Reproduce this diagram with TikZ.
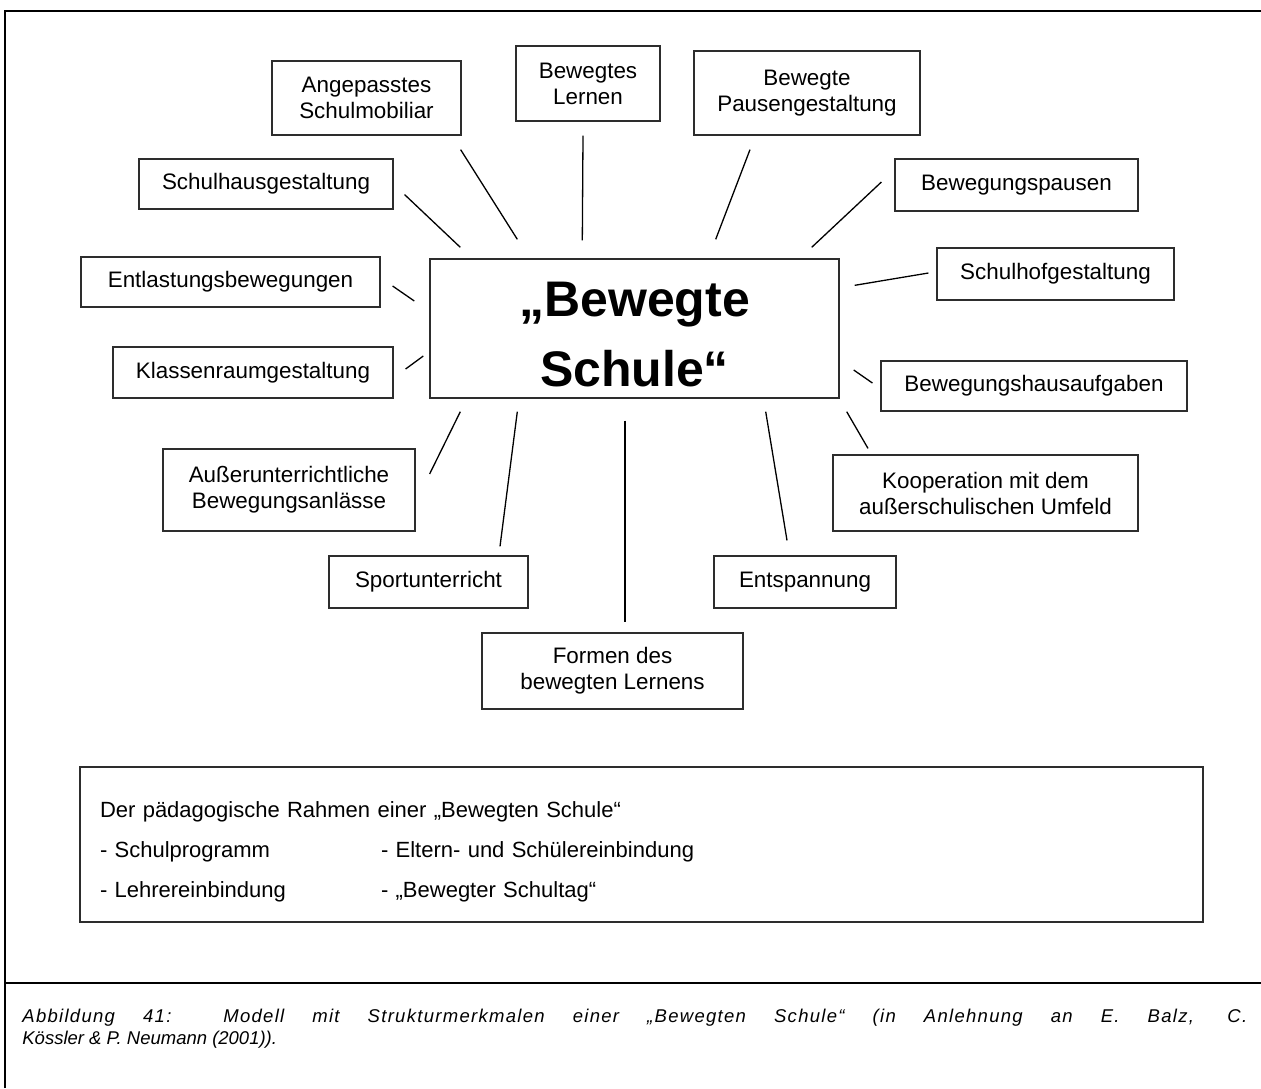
\documentclass[tikz,border=0pt]{standalone}
\usepackage{fontspec}
\setmainfont{Liberation Sans}
\usepackage{tikz}
\definecolor{feldgrau}{RGB}{45,45,45}

\begin{document}
\begin{tikzpicture}[x=0.5pt,y=-0.5pt,
    feld/.style={draw=feldgrau,line width=0.6pt,inner sep=0pt,align=center,
      font=\fontsize{11.2}{13}\selectfont},
    speiche/.style={line width=0.65pt,draw=black},
    rand/.style={line width=1.2pt}]
    \useasboundingbox (0,0) rectangle (1261,1088);
    % Rahmen der Abbildung
    \draw[rand] (5,1088) -- (5,11) -- (1261,11);
    \draw[rand] (5,983) -- (1261,983);
    % Zentrum und Strukturmerkmale
    \node[feld,line width=0.7pt,minimum width=204.5pt,minimum height=69.5pt,text width=204.5pt,
          font=\fontsize{25}{35}\selectfont\bfseries] (core) at (634.5,328.5)
      {\rule{0pt}{23.5pt}„Bewegte\\Schule“};
    \node[feld,minimum width=94.5pt,minimum height=37pt] (mobiliar) at (366.5,98) {Angepasstes\\Schulmobiliar};
    \node[feld,minimum width=72pt,minimum height=37.5pt] (lernen) at (588,83.5) {Bewegtes\\Lernen};
    \node[feld,minimum width=113pt,minimum height=42pt] (pausen) at (807,93) {Bewegte\\Pausengestaltung};
    \node[feld,minimum width=127pt,minimum height=25pt] (haus) at (266,184) {Schulhausgestaltung};
    \node[feld,minimum width=121.5pt,minimum height=26pt] (bewpausen) at (1016.5,185) {Bewegungspausen};
    \node[feld,minimum width=149.5pt,minimum height=25pt] (entlastung) at (230.5,282) {Entlastungsbewegungen};
    \node[feld,minimum width=118.5pt,minimum height=26pt] (hof) at (1055.5,274) {Schulhofgestaltung};
    \node[feld,minimum width=140pt,minimum height=25.5pt] (klasse) at (253,372.5) {Klassenraumgestaltung};
    \node[feld,minimum width=153pt,minimum height=25pt] (hausaufgaben) at (1034,386) {Bewegungshausaufgaben};
    \node[feld,minimum width=126pt,minimum height=41pt] (ausser) at (289,490) {Außerunterrichtliche\\Bewegungsanlässe};
    \node[feld,minimum width=152.5pt,minimum height=38pt] (umfeld) at (985.5,493) {Kooperation mit dem\\außerschulischen Umfeld};
    \node[feld,minimum width=99.5pt,minimum height=26pt] (sport) at (428.5,582) {Sportunterricht};
    \node[feld,minimum width=91pt,minimum height=26pt] (entspannung) at (805,582) {Entspannung};
    \node[feld,minimum width=130.5pt,minimum height=38pt] (formen) at (612.5,671) {Formen des\\bewegten Lernens};
    % Speichen
    \draw[speiche] ([shift={(31,-11)}]core.north west) -- ([shift={(11,-15)}]haus.south east);
    \draw[speiche] ([shift={(88,-19)}]core.north west) -- ([shift={(-1,14)}]mobiliar.south east);
    \draw[speiche] ([shift={(153,-18)}]core.north west) -- ([shift={(-5,14)}]lernen.south);
    \draw[speiche] ([shift={(-124,-19)}]core.north east) -- ([shift={(-57,14)}]pausen.south);
    \draw[speiche] ([shift={(-28,-11)}]core.north east) -- ([shift={(-13,-3)}]bewpausen.west);
    \draw[speiche] ([shift={(15,27)}]core.north east) -- ([shift={(-8,-1)}]hof.west);
    \draw[speiche] ([shift={(-15,-27.5)}]core.west) -- ([shift={(12,4)}]entlastung.east);
    \draw[speiche] ([shift={(-6,27.5)}]core.west) -- ([shift={(12,-3.5)}]klasse.east);
    \draw[speiche] ([shift={(14,41.5)}]core.east) -- ([shift={(-8,-3)}]hausaufgaben.west);
    \draw[speiche] ([shift={(31,13)}]core.south west) -- ([shift={(14,-16)}]ausser.east);
    \draw[speiche] ([shift={(88,13)}]core.south west) -- ([shift={(71.5,-9)}]sport.north);
    \draw[speiche] ([shift={(-9.5,22)}]core.south) -- ([shift={(12.5,-10)}]formen.north);
    \draw[speiche] ([shift={(-74,13)}]core.south east) -- ([shift={(-18,-15)}]entspannung.north);
    \draw[speiche] ([shift={(7,13)}]core.south east) -- ([shift={(-117.5,-6)}]umfeld.north);
    % paedagogischer Rahmen
    \node[feld,line width=0.8pt,align=left,minimum width=561.5pt,minimum height=77.5pt,
          text width=541.5pt,inner xsep=10pt,font=\fontsize{11}{20}\selectfont] (rahmen) at (641.5,844.5)
      {\rule{0pt}{14.8pt}Der pädagogische Rahmen einer „Bewegten Schule“\\
       \makebox[140.5pt][l]{- Schulprogramm}- Eltern- und Schülereinbindung\\
       \makebox[140.5pt][l]{- Lehrereinbindung}- „Bewegter Schultag“};
    % Bildunterschrift
    \node[anchor=north west,inner sep=0pt,text width=612.5pt,align=justify,
          font=\fontsize{9.25}{11}\selectfont\itshape] (caption) at (22,1008.5)
      {\noindent{\addfontfeature{LetterSpace=7}Abbildung 41: Modell mit Strukturmerkmalen einer „Bewegten Schule“ (in Anlehnung an E. Balz, C.}\linebreak
       Kössler \& P. Neumann (2001)).};
\end{tikzpicture}
\end{document}
